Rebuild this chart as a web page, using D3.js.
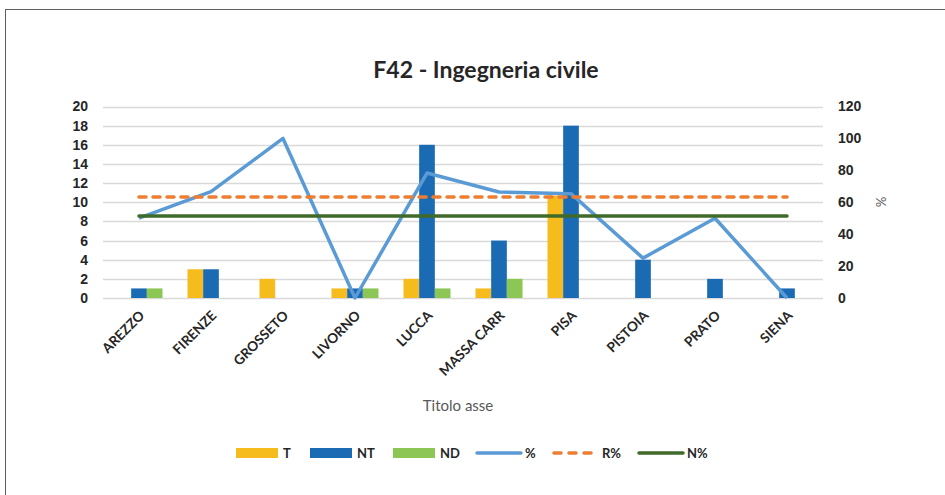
<!DOCTYPE html>
<html>
<head>
<meta charset="utf-8">
<script src="https://cdn.jsdelivr.net/npm/d3@7"></script>
<style>
  body { margin: 0; background: #fff; }
  svg { font-family: Lato, "Open Sans", sans-serif; }
</style>
</head>
<body>
<div id="chart"></div>
<script>
'use strict';

var CATEGORIES = ["AREZZO", "FIRENZE", "GROSSETO", "LIVORNO", "LUCCA", "MASSA CARR", "PISA", "PISTOIA", "PRATO", "SIENA"];
var T_VALUES  = [0, 3, 2, 1, 2, 1, 10.7, 0, 0, 0];
var NT_VALUES = [1, 3, 0, 1, 16, 6, 18, 4, 2, 1];
var ND_VALUES = [1, 0, 0, 1, 1, 2, 0, 0, 0, 0];
var PCT_VALUES = [50, 66.7, 100, 0, 78.3, 66.4, 65.4, 25, 50, 0];
var R_PCT = [63.3, 63.3, 63.3, 63.3, 63.3, 63.3, 63.3, 63.3, 63.3, 63.3];
var N_PCT = [51.4, 51.4, 51.4, 51.4, 51.4, 51.4, 51.4, 51.4, 51.4, 51.4];
var LEFT_TICKS = [0, 2, 4, 6, 8, 10, 12, 14, 16, 18, 20];
var RIGHT_TICKS = [0, 20, 40, 60, 80, 100, 120];
var BAR_SERIES = ["T", "NT", "ND"];

var colors = {T: "#F6BC1E", NT: "#1B6AB4", ND: "#8CC654", pct: "#5B9BD5", r: "#ED7D31", n: "#3F6A28"};

var width = 945, height = 495;
var margin = {top: 106.5, right: 945 - 823, bottom: 495 - 298, left: 103};

var svg = d3.select("#chart").append("svg")
    .attr("width", width)
    .attr("height", height);

// outer frame
svg.append("rect")
    .attr("x", 5.5).attr("y", 9.5)
    .attr("width", width + 10).attr("height", height + 10)
    .attr("fill", "none").attr("stroke", "#5f5f5f").attr("stroke-width", 1);

var x = d3.scaleBand().domain(CATEGORIES).range([margin.left, width - margin.right]);
var xBar = d3.scaleBand().domain(BAR_SERIES).range([0, 47]);
var yLeft = d3.scaleLinear().domain([0, 20]).range([height - margin.bottom, margin.top]);
var yRight = d3.scaleLinear().domain([0, 120]).range([height - margin.bottom, margin.top]);

// grid
svg.append("g").selectAll("line")
    .data(LEFT_TICKS)
    .enter().append("line")
    .attr("x1", margin.left).attr("x2", width - margin.right)
    .attr("y1", function(d) { return Math.round(yLeft(d)) + 0.5; })
    .attr("y2", function(d) { return Math.round(yLeft(d)) + 0.5; })
    .attr("stroke", "#d9d9d9").attr("stroke-width", 1.3);

// left axis
var leftAxis = svg.append("g")
    .attr("transform", "translate(" + (margin.left - 15) + ",0)")
    .call(d3.axisLeft(yLeft).tickValues(LEFT_TICKS).tickSize(0).tickPadding(0));
leftAxis.select(".domain").remove();
leftAxis.selectAll("text")
    .style("font-size", "14px").style("font-weight", "bold").attr("fill", "#262626");

// right axis
var rightAxis = svg.append("g")
    .attr("transform", "translate(" + (width - margin.right + 15) + ",0)")
    .call(d3.axisRight(yRight).tickValues(RIGHT_TICKS).tickSize(0).tickPadding(0));
rightAxis.select(".domain").remove();
rightAxis.selectAll("text")
    .style("font-size", "14px").style("font-weight", "bold").attr("fill", "#262626");

svg.append("text")
    .attr("transform", "translate(876,202) rotate(90)")
    .attr("text-anchor", "middle")
    .style("font-size", "13px").attr("fill", "#595959")
    .text("%");

// bars
var barData = [];
for (var i = 0; i < CATEGORIES.length; i++) {
    barData.push({cat: CATEGORIES[i], key: "T", value: T_VALUES[i]});
    barData.push({cat: CATEGORIES[i], key: "NT", value: NT_VALUES[i]});
    barData.push({cat: CATEGORIES[i], key: "ND", value: ND_VALUES[i]});
}
svg.append("g").selectAll("rect")
    .data(barData.filter(function(d) { return d.value > 0; }))
    .enter().append("rect")
    .attr("x", function(d) { return x(d.cat) + (x.bandwidth() - 47) / 2 + xBar(d.key); })
    .attr("width", xBar.bandwidth())
    .attr("y", function(d) { return yLeft(d.value); })
    .attr("height", function(d) { return yLeft(0) - yLeft(d.value); })
    .attr("fill", function(d) { return colors[d.key]; });

// lines
var cx = function(d, i) { return x(CATEGORIES[i]) + x.bandwidth() / 2; };
var line = d3.line().x(cx).y(function(d) { return yRight(d); });

svg.append("path").datum(PCT_VALUES)
    .attr("d", line).attr("fill", "none")
    .attr("stroke", colors.pct).attr("stroke-width", 3.5).attr("stroke-linejoin", "round");
svg.append("path").datum(R_PCT)
    .attr("d", line).attr("fill", "none")
    .attr("stroke", colors.r).attr("stroke-width", 3.5)
    .attr("stroke-dasharray", "7,7").attr("stroke-linecap", "round");
svg.append("path").datum(N_PCT)
    .attr("d", line).attr("fill", "none")
    .attr("stroke", colors.n).attr("stroke-width", 3.5).attr("stroke-linecap", "round");

// x labels
svg.append("g").selectAll("text")
    .data(CATEGORIES)
    .enter().append("text")
    .attr("transform", function(d) {
        return "translate(" + (x(d) + x.bandwidth() / 2 + 3) + ",313) rotate(-45)";
    })
    .attr("text-anchor", "end")
    .attr("dy", "0.35em")
    .style("font-size", "13.6px").style("font-weight", "bold").attr("fill", "#262626")
    .text(function(d) { return d; });

// titles
svg.append("text")
    .attr("x", 486).attr("y", 78)
    .attr("text-anchor", "middle")
    .style("font-size", "23px").style("font-weight", "bold").attr("fill", "#262626")
    .text("F42 - Ingegneria civile");

svg.append("text")
    .attr("x", 458).attr("y", 411)
    .attr("text-anchor", "middle")
    .style("font-size", "15px").attr("fill", "#595959")
    .text("Titolo asse");

// legend
var legendItems = [
    {label: "T", type: "bar", color: colors.T, x: 236},
    {label: "NT", type: "bar", color: colors.NT, x: 310},
    {label: "ND", type: "bar", color: colors.ND, x: 393},
    {label: "%", type: "line", color: colors.pct, x: 476},
    {label: "R%", type: "dash", color: colors.r, x: 553},
    {label: "N%", type: "line", color: colors.n, x: 638}
];
var lg = svg.append("g").selectAll("g")
    .data(legendItems)
    .enter().append("g")
    .attr("transform", function(d) { return "translate(" + d.x + ",453)"; });
lg.filter(function(d) { return d.type === "bar"; }).append("rect")
    .attr("x", 0).attr("y", -5).attr("width", 42).attr("height", 10)
    .attr("fill", function(d) { return d.color; });
lg.filter(function(d) { return d.type !== "bar"; }).append("line")
    .attr("x1", 1).attr("x2", 45).attr("y1", 0).attr("y2", 0)
    .attr("stroke", function(d) { return d.color; })
    .attr("stroke-width", 3.5).attr("stroke-linecap", "round")
    .attr("stroke-dasharray", function(d) { return d.type === "dash" ? "7,8" : null; });
lg.append("text")
    .attr("x", function(d) { return d.type === "bar" ? 47 : 49; })
    .attr("dy", "0.35em")
    .style("font-size", "13px").style("font-weight", "bold").attr("fill", "#262626")
    .text(function(d) { return d.label; });
</script>
</body>
</html>
